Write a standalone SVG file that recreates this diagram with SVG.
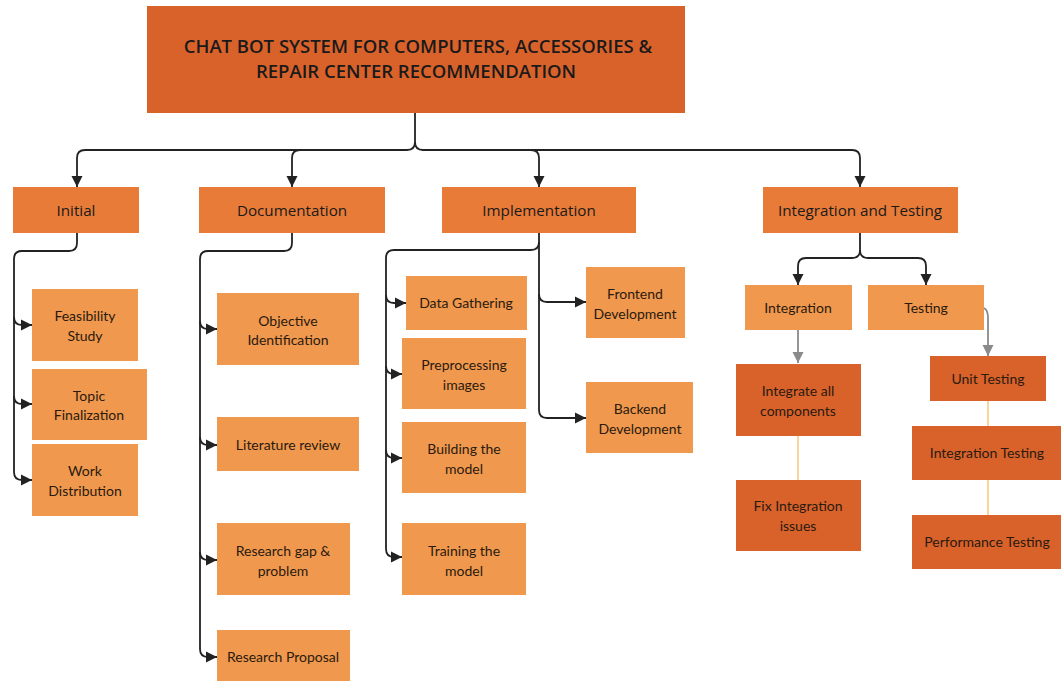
<svg xmlns="http://www.w3.org/2000/svg" width="1061" height="681" viewBox="0 0 1061 681">
<style>
.title{fill:#D9622B}
.l1{fill:#E87B38}
.leaf{fill:#F0984D}
.dark{fill:#D9622B}
.tt{font-family:"Open Sans","Noto Sans",sans-serif;font-size:18.5px;font-weight:600;fill:#1a1a1a;text-anchor:middle}
.h{font-family:"Open Sans","Noto Sans",sans-serif;font-size:15.2px;fill:#1a1a1a;text-anchor:middle}
.t{font-family:Lato,"Open Sans",sans-serif;font-size:14px;fill:#2a1a10;text-anchor:middle}
.c{fill:none;stroke:#222;stroke-width:1.8}
.g{fill:none;stroke:#8a8a8a;stroke-width:1.8}
.y{fill:none;stroke:#F5C77E;stroke-width:1.5}
</style>
<defs>
<marker id="a" markerUnits="userSpaceOnUse" markerWidth="12" markerHeight="12" viewBox="0 0 12 12" refX="11" refY="6" orient="auto"><path d="M0,0.5 L11,6 L0,11.5 Z" fill="#222"/></marker>
<marker id="ag" markerUnits="userSpaceOnUse" markerWidth="12" markerHeight="12" viewBox="0 0 12 12" refX="11" refY="6" orient="auto"><path d="M0,0.5 L11,6 L0,11.5 Z" fill="#8a8a8a"/></marker>
</defs>
<rect width="1061" height="681" fill="#fff"/>
<g id="connectors">
<path class="c" d="M415,113 V142 Q415,150 407,150 H85 Q77,150 77,158 V187" marker-end="url(#a)"/>
<path class="c" d="M415,142 Q415,150 423,150 H852 Q860,150 860,158 V187" marker-end="url(#a)"/>
<path class="c" d="M300,150 Q292,150 292,158 V187" marker-end="url(#a)"/>
<path class="c" d="M531,150 Q539,150 539,158 V187" marker-end="url(#a)"/>
<path class="c" d="M77,233 V243 Q77,251 69,251 H22 Q14,251 14,259 V472 Q14,480 22,480 H32" marker-end="url(#a)"/>
<path class="c" d="M14,317 Q14,325 22,325 H32" marker-end="url(#a)"/>
<path class="c" d="M14,396 Q14,404 22,404 H32" marker-end="url(#a)"/>
<path class="c" d="M292,233 V243 Q292,251 284,251 H208 Q200,251 200,259 V649 Q200,657 208,657 H217" marker-end="url(#a)"/>
<path class="c" d="M200,321 Q200,329 208,329 H217" marker-end="url(#a)"/>
<path class="c" d="M200,437 Q200,445 208,445 H217" marker-end="url(#a)"/>
<path class="c" d="M200,552 Q200,560 208,560 H217" marker-end="url(#a)"/>
<path class="c" d="M539,233 V242 Q539,250 531,250 H394 Q386,250 386,258 V549 Q386,557 394,557 H402" marker-end="url(#a)"/>
<path class="c" d="M386,295 Q386,303 394,303 H406" marker-end="url(#a)"/>
<path class="c" d="M386,366 Q386,374 394,374 H402" marker-end="url(#a)"/>
<path class="c" d="M386,450 Q386,458 394,458 H402" marker-end="url(#a)"/>
<path class="c" d="M539,242 V410 Q539,418 547,418 H586" marker-end="url(#a)"/>
<path class="c" d="M539,294 Q539,302 547,302 H586" marker-end="url(#a)"/>
<path class="c" d="M860,233 V250 Q860,258 852,258 H806 Q798,258 798,266 V285" marker-end="url(#a)"/>
<path class="c" d="M860,250 Q860,258 868,258 H918 Q926,258 926,266 V285" marker-end="url(#a)"/>
<path class="g" d="M798,330 V363" marker-end="url(#ag)"/>
<path class="g" d="M984,308 Q988,310 988,318 V356" marker-end="url(#ag)"/>
<path class="y" d="M798,436 V480"/>
<path class="y" d="M988,401 V426"/>
<path class="y" d="M988,480 V515"/>
</g>
<g id="root"><rect class="title" x="147" y="6" width="538" height="107"/><text class="tt" x="418" y="53">CHAT BOT SYSTEM FOR COMPUTERS, ACCESSORIES &amp;</text><text class="tt" x="416" y="78">REPAIR CENTER RECOMMENDATION</text></g>
<g id="initial"><rect class="l1" x="13" y="187" width="126" height="46"/><text class="h" x="76" y="216">Initial</text></g>
<g id="documentation"><rect class="l1" x="199" y="187" width="186" height="46"/><text class="h" x="292" y="216">Documentation</text></g>
<g id="implementation"><rect class="l1" x="442" y="187" width="194" height="46"/><text class="h" x="539" y="216">Implementation</text></g>
<g id="integration-testing"><rect class="l1" x="763" y="187" width="195" height="46"/><text class="h" x="860" y="216">Integration and Testing</text></g>
<g id="feasibility"><rect class="leaf" x="32" y="289" width="106" height="72"/><text class="t" x="85" y="321">Feasibility</text><text class="t" x="85" y="341">Study</text></g>
<g id="topic"><rect class="leaf" x="32" y="369" width="115" height="71"/><text class="t" x="89" y="401">Topic</text><text class="t" x="89" y="420">Finalization</text></g>
<g id="work"><rect class="leaf" x="32" y="444" width="106" height="72"/><text class="t" x="85" y="476">Work</text><text class="t" x="85" y="496">Distribution</text></g>
<g id="objective"><rect class="leaf" x="217" y="293" width="142" height="72"/><text class="t" x="288" y="326">Objective</text><text class="t" x="288" y="345">Identification</text></g>
<g id="literature"><rect class="leaf" x="217" y="417" width="142" height="54"/><text class="t" x="288" y="450">Literature review</text></g>
<g id="research-gap"><rect class="leaf" x="217" y="523" width="133" height="72"/><text class="t" x="283" y="556">Research gap &amp;</text><text class="t" x="283" y="576">problem</text></g>
<g id="research-proposal"><rect class="leaf" x="217" y="630" width="133" height="51"/><text class="t" x="283" y="662">Research Proposal</text></g>
<g id="data-gathering"><rect class="leaf" x="406" y="276" width="121" height="54"/><text class="t" x="466" y="308">Data Gathering</text></g>
<g id="preprocessing"><rect class="leaf" x="402" y="338" width="124" height="71"/><text class="t" x="464" y="370">Preprocessing</text><text class="t" x="464" y="390">images</text></g>
<g id="building"><rect class="leaf" x="402" y="422" width="124" height="71"/><text class="t" x="464" y="454">Building the</text><text class="t" x="464" y="474">model</text></g>
<g id="training"><rect class="leaf" x="402" y="523" width="124" height="72"/><text class="t" x="464" y="556">Training the</text><text class="t" x="464" y="576">model</text></g>
<g id="frontend"><rect class="leaf" x="586" y="267" width="99" height="71"/><text class="t" x="635" y="299">Frontend</text><text class="t" x="635" y="319">Development</text></g>
<g id="backend"><rect class="leaf" x="586" y="382" width="107" height="71"/><text class="t" x="640" y="414">Backend</text><text class="t" x="640" y="434">Development</text></g>
<g id="integration"><rect class="leaf" x="745" y="285" width="107" height="45"/><text class="t" x="798" y="313">Integration</text></g>
<g id="testing"><rect class="leaf" x="868" y="285" width="116" height="45"/><text class="t" x="926" y="313">Testing</text></g>
<g id="integrate-all"><rect class="dark" x="736" y="364" width="125" height="72"/><text class="t" x="798" y="396">Integrate all</text><text class="t" x="798" y="416">components</text></g>
<g id="fix-integration"><rect class="dark" x="736" y="480" width="125" height="71"/><text class="t" x="798" y="511">Fix Integration</text><text class="t" x="798" y="531">issues</text></g>
<g id="unit-testing"><rect class="dark" x="930" y="356" width="116" height="45"/><text class="t" x="988" y="384">Unit Testing</text></g>
<g id="integration-testing-leaf"><rect class="dark" x="912" y="426" width="149" height="54"/><text class="t" x="987" y="458">Integration Testing</text></g>
<g id="performance-testing"><rect class="dark" x="912" y="515" width="149" height="54"/><text class="t" x="987" y="547">Performance Testing</text></g>
</svg>
